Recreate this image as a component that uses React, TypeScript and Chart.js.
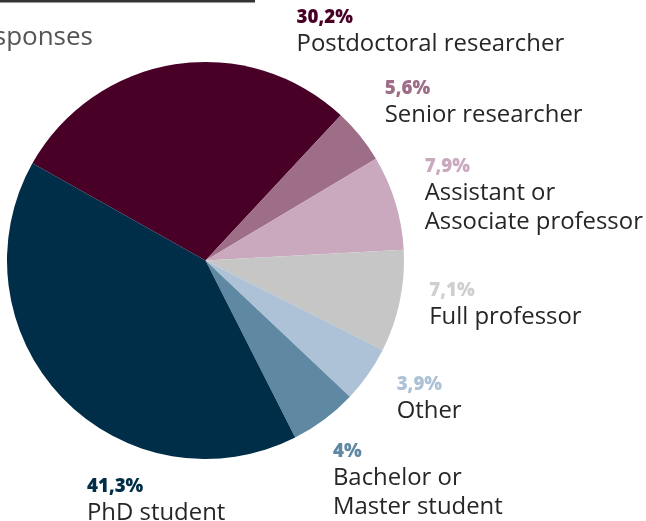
import React, { useEffect, useRef } from "react";
import { Chart, registerables } from "chart.js";

Chart.register(...registerables);

// Categories in drawing order (clockwise)
const categories = [
  "Postdoctoral researcher",
  "Senior researcher",
  "Assistant or Associate professor",
  "Full professor",
  "Other",
  "Bachelor or Master student",
  "PhD student",
];

// Slice sizes as drawn in the picture (share of the full circle, %)
const shares = [28.8, 4.5, 7.7, 8.3, 4.6, 5.5, 40.6];

// Percentage labels as printed next to each slice
const shareLabels = ["30,2%", "5,6%", "7,9%", "7,1%", "3,9%", "4%", "41,3%"];

// Category names split into text lines
const nameLines = [
  ["Postdoctoral researcher"],
  ["Senior researcher"],
  ["Assistant or", "Associate professor"],
  ["Full professor"],
  ["Other"],
  ["Bachelor or", "Master student"],
  ["PhD student"],
];

const sliceColors = [
  "#480027",
  "#9e6d87",
  "#caa8bd",
  "#c6c6c6",
  "#adc2d6",
  "#5f88a3",
  "#002d48",
];

const percentColors = [
  "#480027",
  "#9e6d87",
  "#caa8bd",
  "#cfcfcf",
  "#adc2d6",
  "#5f88a3",
  "#002d48",
];

// Label anchor offsets from the pie centre, in units of the pie radius
const labelOffsets: [number, number][] = [
  [0.459, -1.197],
  [0.903, -0.84],
  [1.104, -0.447],
  [1.127, 0.178],
  [0.963, 0.651],
  [0.642, 0.989],
  [-0.597, 1.165],
];

const headerText = "responses";

const labelPlugin = {
  id: "sliceLabels",
  afterDraw(chart: any) {
    const ctx = chart.ctx as CanvasRenderingContext2D;
    const meta = chart.getDatasetMeta(0);
    ctx.save();
    // header rule and cut-off subtitle
    ctx.fillStyle = "#333333";
    ctx.fillRect(0, 0, 255, 2.5);
    ctx.font = '400 26px "Open Sans"';
    ctx.fillStyle = "#555555";
    ctx.textAlign = "right";
    ctx.textBaseline = "alphabetic";
    ctx.fillText(headerText, 93, 45);

    ctx.textAlign = "left";
    meta.data.forEach((arc: any, i: number) => {
      const p = arc.getProps(["x", "y", "outerRadius"], true);
      const lx = p.x + labelOffsets[i][0] * p.outerRadius;
      const ly = p.y + labelOffsets[i][1] * p.outerRadius;
      ctx.font = '800 18.7px "Open Sans"';
      ctx.fillStyle = percentColors[i];
      ctx.fillText(shareLabels[i], lx, ly);
      ctx.font = '400 23.9px "Open Sans"';
      ctx.fillStyle = "#262626";
      nameLines[i].forEach((line, j) => {
        ctx.fillText(line, lx, ly + 28.5 + j * 29);
      });
    });
    ctx.restore();
  },
};

export default function App() {
  const canvasRef = useRef<HTMLCanvasElement | null>(null);

  useEffect(() => {
    if (!canvasRef.current) return;
    const chart = new Chart(canvasRef.current, {
      type: "pie",
      data: {
        labels: categories,
        datasets: [
          {
            data: shares,
            backgroundColor: sliceColors,
            borderWidth: 0,
            hoverOffset: 0,
          },
        ],
      },
      options: {
        responsive: false,
        animation: false,
        rotation: -60.7,
        layout: { padding: { left: 7, right: 242, top: 62, bottom: 62 } },
        plugins: {
          legend: { display: false },
          title: { display: false },
          tooltip: { enabled: false },
        },
      },
      plugins: [labelPlugin],
    });
    return () => chart.destroy();
  }, []);

  return (
    <div style={{ position: "absolute", left: 0, top: 0, width: 646, height: 521, background: "#fff" }}>
      <canvas ref={canvasRef} width={646} height={521} />
    </div>
  );
}
